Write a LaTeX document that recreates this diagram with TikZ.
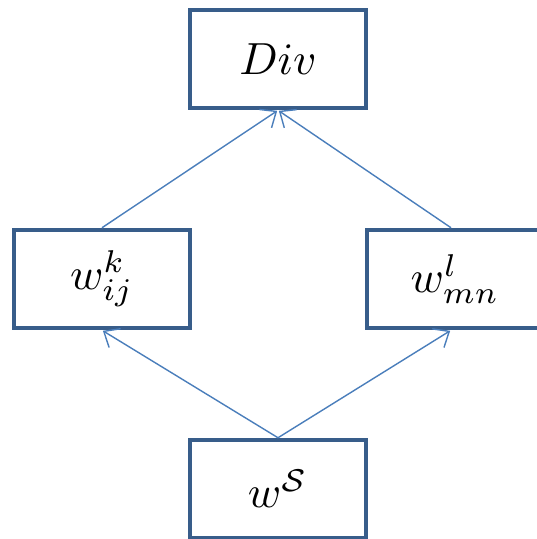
\documentclass[tikz,border=0pt]{standalone}
\usepackage{graphicx}
\usetikzlibrary{arrows.meta}
\definecolor{boxblue}{RGB}{56,93,138}
\definecolor{arrblue}{RGB}{74,126,187}
\newcommand{\boxmath}[1]{\scalebox{4.5}{$#1$}}
\begin{document}
\begin{tikzpicture}[x=1pt,y=-1pt,
  boxnode/.style={draw=boxblue, line width=4.5pt, fill=white, minimum width=176pt, minimum height=98pt, inner sep=0pt},
  link/.style={draw=arrblue, line width=1.4pt, -{Straight Barb[length=13pt,width=22pt,line width=1.4pt]}, shorten >=1pt}]
\clip (0,0) rectangle (537,539);
\fill[white] (0,0) rectangle (537,539);
\node[boxnode] (div) at (278,59) {\boxmath{Div}};
\node[boxnode] (wk) at (102,279) {\boxmath{w_{ij}^{k}}};
\node[boxnode] (wl) at (455,279) {\boxmath{w_{mn}^{l}}};
\node[boxnode] (ws) at (278,489) {\boxmath{w^{\mathcal{S}}}};
\coordinate (wlt) at ([xshift=-4pt]wl.north);
\coordinate (wlb) at ([xshift=-4pt]wl.south);
\draw[link] (wk.north) -- (div.south);
\draw[link] (wlt) -- (div.south);
\draw[link] (ws.north) -- (wk.south);
\draw[link] (ws.north) -- (wlb);
\end{tikzpicture}
\end{document}
